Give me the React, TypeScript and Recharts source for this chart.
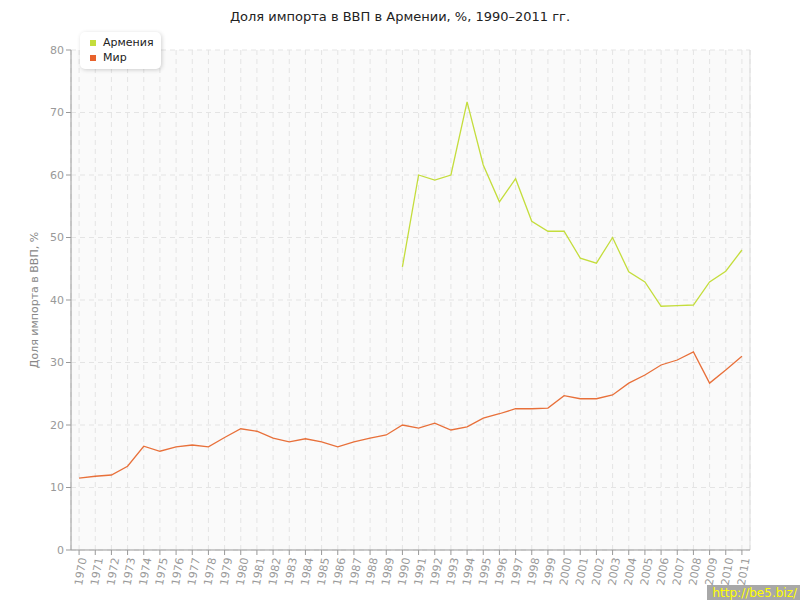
import { CartesianGrid, Line, LineChart, ReferenceLine, XAxis, YAxis } from "recharts";

const years = [
  1970, 1971, 1972, 1973, 1974, 1975, 1976, 1977, 1978, 1979, 1980, 1981, 1982, 1983, 1984, 1985, 1986, 1987,
  1988, 1989, 1990, 1991, 1992, 1993, 1994, 1995, 1996, 1997, 1998, 1999, 2000, 2001, 2002, 2003, 2004, 2005,
  2006, 2007, 2008, 2009, 2010, 2011,
];

// Армения: данные с 1990 года
const armenia: (number | null)[] = [
  null, null, null, null, null, null, null, null, null, null, null, null, null, null, null, null, null, null,
  null, null, 45.3, 60.0, 59.2, 60.0, 71.7, 61.6, 55.7, 59.4, 52.6, 51.0, 51.0, 46.7, 45.9, 50.0, 44.5, 42.9,
  39.0, 39.1, 39.2, 42.9, 44.6, 48.0,
];

const world = [
  11.5, 11.8, 12.0, 13.4, 16.6, 15.8, 16.5, 16.8, 16.5, 18.0, 19.4, 19.0, 17.9, 17.3, 17.8, 17.3, 16.5, 17.3,
  17.9, 18.4, 20.0, 19.5, 20.3, 19.2, 19.7, 21.1, 21.8, 22.6, 22.6, 22.7, 24.7, 24.2, 24.2, 24.8, 26.7, 28.0,
  29.6, 30.4, 31.7, 26.7, 28.8, 31.0,
];

const yTicks = [0, 10, 20, 30, 40, 50, 60, 70, 80];

const series = [
  { key: "armenia", name: "Армения", color: "#c4dd3c" },
  { key: "world", name: "Мир", color: "#e8622c" },
];

const data = years.map((year, i) => ({ year, armenia: armenia[i], world: world[i] }));

const FONT = "'DejaVu Sans', Verdana, sans-serif";

function LegendBox() {
  return (
    <div
      style={{
        position: "absolute",
        left: 80,
        top: 32,
        background: "#fff",
        borderRadius: 5,
        boxShadow: "1px 1px 4px rgba(0,0,0,0.18)",
        padding: "3px 10px 4px 10px",
        fontFamily: FONT,
        fontSize: 11,
        color: "#222",
        width: 61,
        zIndex: 2,
      }}
    >
      {series.map((it) => (
        <div key={it.key} style={{ display: "flex", alignItems: "center", height: 15 }}>
          <span
            style={{ width: 6, height: 6, flexShrink: 0, background: it.color, marginRight: 7, display: "inline-block" }}
          />
          {it.name}
        </div>
      ))}
    </div>
  );
}

export default function App() {
  return (
    <div style={{ position: "absolute", left: 0, top: 0, width: 800, height: 600, background: "#fff" }}>
      <div
        style={{
          position: "absolute",
          top: 9,
          width: 800,
          textAlign: "center",
          fontFamily: FONT,
          fontSize: 13,
          color: "#222",
        }}
      >
        Доля импорта в ВВП в Армении, %, 1990–2011 гг.
      </div>
      <LineChart width={800} height={600} data={data} margin={{ top: 50, right: 50, bottom: 0, left: 20 }}>
        <CartesianGrid stroke="#e4e4e4" strokeDasharray="5 4" fill="#fafafa" />
        <XAxis
          dataKey="year"
          type="number"
          domain={[1969.5, 2011.5]}
          ticks={years}
          interval={0}
          height={50}
          stroke="#999"
          tickSize={5}
          angle={-80}
          textAnchor="end"
          tick={{ fill: "#999", fontSize: 11, fontFamily: FONT }}
        />
        <YAxis
          domain={[0, 80]}
          ticks={yTicks}
          width={51}
          stroke="#999"
          tickSize={5}
          tick={{ fill: "#999", fontSize: 11, fontFamily: FONT }}
          label={{
            value: "Доля импорта в ВВП, %",
            angle: -90,
            position: "insideLeft",
            offset: 14,
            style: { textAnchor: "middle", fill: "#888", fontSize: 11, fontFamily: FONT },
          }}
        />
        <ReferenceLine x={2011.5} stroke="#ddd" />
        {series.map((s) => (
          <Line
            key={s.key}
            dataKey={s.key}
            name={s.name}
            stroke={s.key === "world" ? "#e8703a" : s.color}
            strokeWidth={1.3}
            dot={false}
            isAnimationActive={false}
          />
        ))}
      </LineChart>
      <LegendBox />
      <div
        style={{
          position: "absolute",
          right: 0,
          bottom: 0,
          background: "#a8a8a8",
          color: "#ffff00",
          fontFamily: FONT,
          fontSize: 12,
          padding: "1px 3px 0 5px",
        }}
      >
        http://be5.biz/
      </div>
    </div>
  );
}
